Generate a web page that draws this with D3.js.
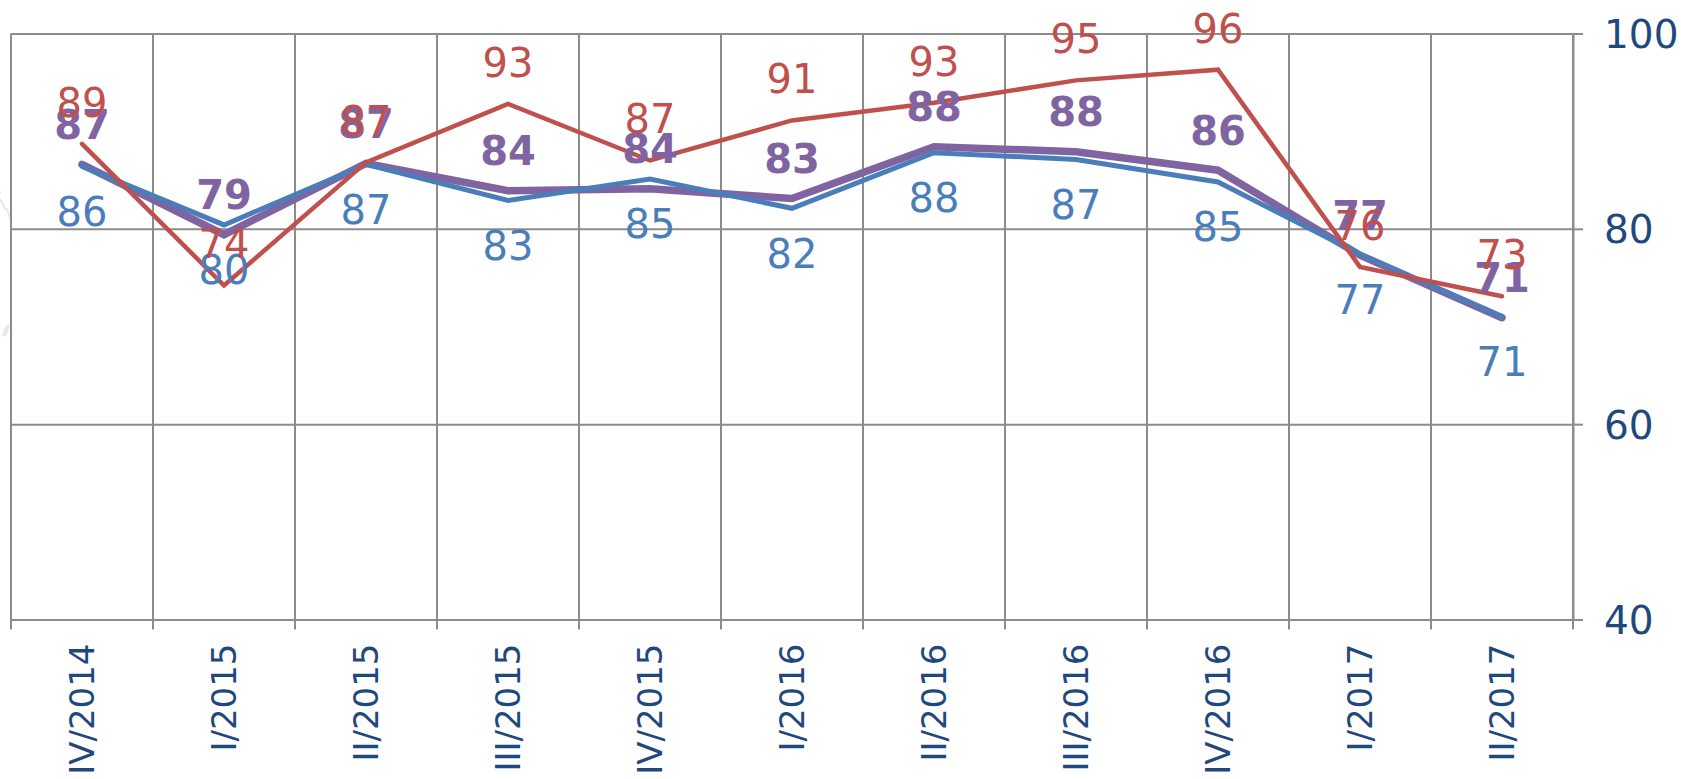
<!DOCTYPE html>
<html>
<head>
<meta charset="utf-8">
<script src="https://cdn.jsdelivr.net/npm/d3@7"></script>
<style>
  html, body { margin: 0; padding: 0; background: #ffffff; }
  svg { display: block; }
</style>
</head>
<body>
<svg id="chart" width="1681" height="779"></svg>
<script>
// ---- data ----
const categories = ["IV/2014", "I/2015", "II/2015", "III/2015", "IV/2015", "I/2016",
                    "II/2016", "III/2016", "IV/2016", "I/2017", "II/2017"];
const seriesBlue   = [86.4, 80.4, 86.6, 82.9, 85.1, 82.1, 87.8, 87.1, 84.8, 77.4, 71.0];
const seriesRed    = [88.7, 74.2, 86.8, 92.8, 87.0, 91.1, 92.9, 95.2, 96.3, 76.1, 73.1];
const seriesPurple = [86.6, 79.4, 86.7, 83.9, 84.1, 83.1, 88.4, 87.9, 86.0, 77.3, 70.9];
const yTicks = [40, 60, 80, 100];

// ---- layout ----
const L = 11, R = 1573, T = 33.5, B = 619.5;
const gridColor = "#8c8c8c";
const axisText = "#1F497D";
const font = "'DejaVu Sans', Verdana, sans-serif";

const svg = d3.select("#chart");

// faint watermark arcs at left edge
svg.append("defs").append("clipPath").attr("id", "wmclip")
  .append("rect").attr("x", 0).attr("y", 0).attr("width", 10).attr("height", 779);
const wm = svg.append("g").attr("clip-path", "url(#wmclip)");
[150, 175].forEach(r => {
  wm.append("circle").attr("cx", 10 - r + 8).attr("cy", 270).attr("r", r)
    .attr("fill", "none").attr("stroke", "#e3e8ee").attr("stroke-width", 2)
    .attr("stroke-dasharray", "12 16");
});

const x = d3.scaleBand().domain(categories).range([L, R]).paddingInner(0).paddingOuter(0);
const y = d3.scaleLinear().domain([40, 100]).range([B, T]);
const cx = c => x(c) + x.bandwidth() / 2;

// horizontal gridlines
svg.append("g")
  .attr("transform", `translate(${R},0)`)
  .call(d3.axisRight(y).tickValues(yTicks).tickSize(-(R - L)).tickFormat(""))
  .call(g => g.select(".domain").remove())
  .call(g => g.selectAll("line").attr("stroke", gridColor).attr("stroke-width", 2));

// vertical gridlines at category boundaries (extend below as ticks)
const bounds = d3.range(categories.length + 1).map(i => i < categories.length ? x(categories[i]) : R);
svg.append("g").selectAll("line").data(bounds).join("line")
  .attr("x1", d => d).attr("x2", d => d)
  .attr("y1", T).attr("y2", B + 10)
  .attr("stroke", gridColor).attr("stroke-width", 2);

// right axis with labels
svg.append("g")
  .attr("transform", `translate(${R},0)`)
  .call(d3.axisRight(y).tickValues(yTicks).tickSize(10).tickSizeOuter(0).tickPadding(21))
  .call(g => g.select(".domain").attr("stroke", gridColor).attr("stroke-width", 2))
  .call(g => g.selectAll(".tick line").attr("stroke", gridColor).attr("stroke-width", 2))
  .call(g => g.selectAll("text").attr("fill", axisText).attr("font-family", font)
      .attr("font-size", 39).attr("dy", "0.36em"));

// bottom axis labels (rotated)
svg.append("g")
  .attr("transform", `translate(0,${B})`)
  .call(d3.axisBottom(x).tickSize(0).tickPadding(0))
  .call(g => g.select(".domain").remove())
  .call(g => g.selectAll("text")
      .attr("fill", axisText).attr("font-family", font).attr("font-size", 34)
      .attr("text-anchor", "end")
      .attr("transform", "translate(0,24) rotate(-90)")
      .attr("x", 0).attr("y", 0).attr("dy", "0.36em"));

// series
const series = [
  { name: "purple", values: seriesPurple, color: "#8064A2", width: 7.5, labelDy: -40, bold: true },
  { name: "blue",   values: seriesBlue,   color: "#4A7EBB", width: 5,   labelDy: 45,  bold: false },
  { name: "red",    values: seriesRed,    color: "#C0504D", width: 4.5, labelDy: -41.5, bold: false }
];

const line = d3.line().x((d, i) => cx(categories[i])).y(d => y(d));

series.forEach(s => {
  svg.append("path").datum(s.values)
    .attr("d", line)
    .attr("fill", "none")
    .attr("stroke", s.color)
    .attr("stroke-width", s.width)
    .attr("stroke-linejoin", "miter")
    .attr("stroke-linecap", "round");
});

const fmt = d3.format(".0f");
[series[1], series[0], series[2]].forEach(s => {
  svg.append("g").selectAll("text").data(s.values).join("text")
    .attr("x", (d, i) => cx(categories[i]))
    .attr("y", d => y(d) + s.labelDy)
    .attr("dy", "0.36em")
    .attr("text-anchor", "middle")
    .attr("font-family", font)
    .attr("font-size", 40)
    .attr("font-weight", s.bold ? "bold" : "normal")
    .attr("fill", s.color)
    .text(d => fmt(d));
});
</script>
</body>
</html>
